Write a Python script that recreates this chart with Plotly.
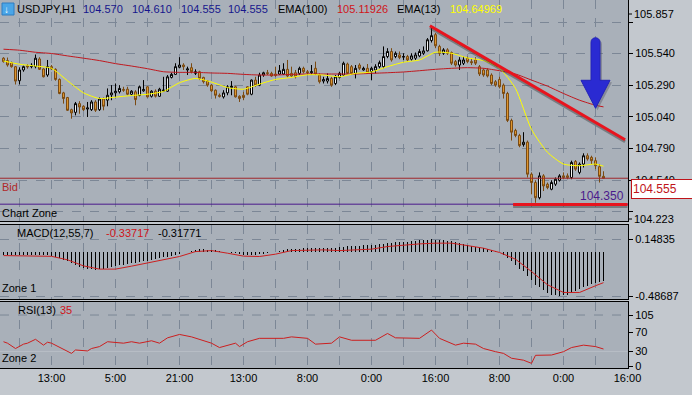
import plotly.graph_objects as go

# ---------------- DATA ----------------
first_bar = -12
opens = [105.504,105.485,105.469,105.437,105.326,105.411,105.445,105.437,105.437,105.498,
         105.419,105.371,105.437,105.416,105.336,105.230,105.193,105.097,105.076,105.145,
         105.124,105.102,105.097,105.158,105.097,105.182,105.172,105.214,105.230,105.238,
         105.257,105.259,105.219,105.238,105.209,105.246,105.278,105.203,105.243,105.203,
         105.243,105.243,105.352,105.376,105.432,105.450,105.411,105.429,105.384,105.397,
         105.352,105.323,105.291,105.251,105.211,105.198,105.230,105.272,105.278,105.203,
         105.211,105.278,105.219,105.331,105.291,105.371,105.389,105.384,105.379,105.379,
         105.379,105.416,105.384,105.389,105.384,105.424,105.397,105.389,105.424,105.371,
         105.323,105.323,105.344,105.304,105.352,105.371,105.458,105.437,105.384,105.450,
         105.411,105.424,105.397,105.411,105.437,105.437,105.517,105.557,105.517,105.530,
         105.512,105.517,105.496,105.504,105.522,105.543,105.562,105.644,105.690,105.597,
         105.543,105.570,105.549,105.477,105.450,105.464,105.504,105.477,105.490,105.437,
         105.411,105.411,105.371,105.318,105.336,105.291,105.225,105.012,104.933,104.893,
         104.821,104.840,104.587,104.521,104.401,104.574,104.508,104.468,104.508,104.539,
         104.574,104.574,104.561,104.688,104.601,104.667,104.733,104.720,104.694,104.646,
         104.570]
highs = [105.512,105.509,105.477,105.442,105.432,105.445,105.456,105.464,105.533,105.512,
         105.424,105.490,105.450,105.424,105.344,105.238,105.198,105.105,105.158,105.164,
         105.132,105.158,105.172,105.172,105.193,105.193,105.265,105.291,105.304,105.291,
         105.278,105.278,105.251,105.251,105.288,105.331,105.283,105.251,105.257,105.270,
         105.357,105.371,105.389,105.464,105.512,105.464,105.437,105.464,105.416,105.405,
         105.357,105.331,105.299,105.257,105.225,105.251,105.291,105.323,105.286,105.211,
         105.238,105.283,105.336,105.357,105.389,105.397,105.411,105.397,105.437,105.450,
         105.464,105.490,105.437,105.411,105.437,105.437,105.411,105.450,105.477,105.384,
         105.357,105.384,105.357,105.371,105.397,105.477,105.469,105.450,105.450,105.464,
         105.437,105.458,105.437,105.456,105.485,105.597,105.583,105.583,105.557,105.557,
         105.543,105.530,105.543,105.549,105.575,105.597,105.663,105.743,105.703,105.610,
         105.583,105.583,105.557,105.490,105.512,105.517,105.517,105.504,105.512,105.450,
         105.424,105.424,105.384,105.331,105.357,105.304,105.238,105.026,104.946,104.906,
         104.919,104.853,104.601,104.539,104.601,104.587,104.521,104.539,104.561,104.587,
         104.601,104.593,104.694,104.699,104.680,104.752,104.752,104.733,104.720,104.667,
         104.610]
lows = [105.469,105.437,105.429,105.296,105.296,105.397,105.421,105.424,105.424,105.411,
        105.352,105.357,105.411,105.326,105.219,105.145,105.087,105.026,105.052,105.065,
        105.087,105.039,105.087,105.079,105.087,105.092,105.124,105.172,105.198,105.225,
        105.238,105.211,105.211,105.132,105.203,105.238,105.193,105.193,105.193,105.198,
        105.238,105.238,105.344,105.371,105.424,105.411,105.371,105.384,105.371,105.331,
        105.304,105.278,105.238,105.185,105.193,105.185,105.211,105.211,105.193,105.158,
        105.172,105.211,105.211,105.278,105.283,105.357,105.371,105.357,105.357,105.371,
        105.371,105.352,105.357,105.344,105.371,105.384,105.376,105.371,105.371,105.304,
        105.304,105.304,105.278,105.291,105.344,105.363,105.379,105.371,105.344,105.411,
        105.405,105.384,105.331,105.384,105.424,105.424,105.504,105.477,105.504,105.496,
        105.490,105.477,105.485,105.490,105.512,105.530,105.557,105.628,105.583,105.522,
        105.530,105.530,105.450,105.437,105.411,105.450,105.464,105.450,105.450,105.363,
        105.357,105.352,105.291,105.278,105.265,105.185,104.999,104.853,104.879,104.800,
        104.805,104.561,104.428,104.361,104.388,104.454,104.468,104.460,104.494,104.529,
        104.547,104.547,104.547,104.614,104.587,104.640,104.694,104.667,104.627,104.521,
        104.555]
closes = [105.477,105.450,105.437,105.323,105.411,105.437,105.435,105.448,105.504,105.416,
          105.357,105.437,105.419,105.336,105.225,105.185,105.092,105.071,105.145,105.118,
          105.097,105.111,105.158,105.092,105.182,105.124,105.211,105.230,105.243,105.265,
          105.251,105.219,105.243,105.177,105.278,105.257,105.198,105.243,105.203,105.259,
          105.251,105.357,105.376,105.437,105.450,105.437,105.419,105.397,105.397,105.344,
          105.318,105.291,105.246,105.211,105.203,105.230,105.278,105.283,105.198,105.185,
          105.193,105.219,105.331,105.291,105.371,105.389,105.384,105.363,105.368,105.405,
          105.416,105.363,105.363,105.357,105.424,105.397,105.389,105.397,105.379,105.318,
          105.336,105.344,105.291,105.357,105.384,105.464,105.384,105.384,105.424,105.424,
          105.424,105.389,105.424,105.437,105.469,105.517,105.557,105.490,105.543,105.509,
          105.517,105.490,105.522,105.530,105.557,105.562,105.650,105.682,105.602,105.543,
          105.570,105.543,105.464,105.450,105.490,105.490,105.477,105.469,105.464,105.379,
          105.371,105.363,105.304,105.291,105.278,105.225,105.012,104.919,104.893,104.813,
          104.840,104.587,104.521,104.401,104.574,104.494,104.481,104.521,104.547,104.574,
          104.561,104.561,104.680,104.627,104.667,104.733,104.707,104.694,104.654,104.570,
          104.555]
bars = list(range(first_bar, first_bar + len(closes)))

ind_x = [-12,-8,-4,0,4,8,12,16,20,24,28,32,36,40,44,48,52,56,60,64,68,72,76,80,84,88,
         92,96,100,104,108,112,116,120,124,128,132,136,138]
ema100 = [105.575,105.567,105.551,105.541,105.522,105.504,105.485,105.461,105.442,105.421,
          105.397,105.392,105.392,105.387,105.384,105.376,105.371,105.371,105.376,105.379,
          105.379,105.379,105.379,105.384,105.389,105.395,105.405,105.416,105.424,105.429,
          105.424,105.405,105.379,105.331,105.283,105.225,105.172,105.132,105.119]
ema13 = [105.482,105.456,105.442,105.424,105.326,105.230,105.185,105.196,105.209,105.219,
         105.241,105.310,105.344,105.315,105.272,105.259,105.299,105.336,105.352,105.373,
         105.371,105.357,105.384,105.395,105.437,105.472,105.490,105.551,105.543,105.506,
         105.485,105.424,105.265,104.941,104.760,104.667,104.654,104.667,104.650]

macd_hist = [-0.030,-0.032,-0.030,-0.028,-0.030,-0.033,-0.030,-0.028,-0.030,-0.032,-0.030,-0.033,
             -0.035,-0.045,-0.060,-0.080,-0.100,-0.120,-0.140,-0.160,-0.170,-0.185,-0.190,-0.195,
             -0.190,-0.185,-0.175,-0.165,-0.155,-0.145,-0.140,-0.130,-0.120,-0.115,-0.105,-0.100,
             -0.090,-0.080,-0.075,-0.065,-0.055,-0.045,-0.040,-0.030,-0.015,0.000,0.010,0.020,
             0.030,0.035,0.035,0.030,0.030,0.025,0.020,0.010,0.005,-0.005,-0.010,-0.020,
             -0.025,-0.030,-0.030,-0.025,-0.020,-0.015,-0.010,0.000,0.010,0.020,0.030,0.035,
             0.035,0.040,0.040,0.045,0.045,0.050,0.050,0.045,0.045,0.045,0.050,0.055,
             0.060,0.065,0.070,0.070,0.075,0.075,0.080,0.080,0.080,0.085,0.090,0.100,
             0.105,0.110,0.115,0.115,0.120,0.120,0.125,0.130,0.135,0.140,0.145,0.148,
             0.145,0.140,0.135,0.130,0.125,0.115,0.105,0.095,0.085,0.075,0.065,0.055,
             0.045,0.035,0.025,0.015,0.000,-0.030,-0.060,-0.100,-0.140,-0.180,-0.210,-0.260,
             -0.310,-0.360,-0.390,-0.420,-0.450,-0.470,-0.480,-0.487,-0.480,-0.470,-0.450,-0.430,
             -0.410,-0.390,-0.370,-0.355,-0.340,-0.330,-0.318]
macd_signal = [-0.035,-0.035,-0.038,-0.043,-0.082,-0.150,-0.186,-0.186,-0.153,-0.116,
               -0.082,-0.045,0.010,0.021,-0.008,-0.041,-0.045,-0.019,0.021,0.029,
               0.029,0.021,0.029,0.037,0.066,0.085,0.096,0.104,0.104,0.077,
               0.048,0.000,-0.075,-0.213,-0.361,-0.447,-0.447,-0.372,-0.337]

rsi_x = [-12,-11,-9,-7,-6,-4,-2,-1,0,2,5,6,9,10,12,14,16,18,20,22,25,27,29,32,35,40,42,44,46,47,
         49,52,58,60,64,66,70,72,75,81,84,86,92,95,97,101,103,106,108,111,113,115,118,120,121,
         125,128,130,133,136,138]
rsi_y = [50,47,36,45,47,55,43,49,47,38,26,33,31,36,40,50,48,47,50,47,52,47,58,65,60,47,38,43,47,40,
         50,57,57,60,57,45,47,60,53,53,67,58,57,74,57,43,47,45,36,29.5,26,16,12,5.5,22,
         22.6,29.5,38,43,40,35]

tick_bars = [0,16,32,48,64,80,96,112,128,144]
tick_labels = ["13:00","5:00","21:00","13:00","8:00","0:00","16:00","8:00","0:00","16:00"]
grid_bars = list(range(-8, 145, 8))

price_grid = [105.79,105.54,105.29,105.04,104.79,104.54,104.29]
price_labels = ["","105.540","105.290","105.040","104.790","104.540",""]
price_top_label, price_bottom_label = 105.857, 104.223
bid_price = 104.555
low_price = 104.350
header_values = ["104.570","104.610","104.555","104.555"]
ema100_last, ema13_last = "105.11926", "104.64969"
macd_last = ["-0.33717", "-0.31771"]
rsi_last = "35"

trend_line = [(94.6, 105.761), (143.4, 104.859)]
support_line = [(115.4, 104.347), (144.0, 104.347)]
arrow_bar, arrow_tip = 136, 105.108

# ---------------- LAYOUT HELPERS ----------------
W, H = 692, 395
ML, MR, MT, MB = 0, 64, 0, 27
PW, PH = W - ML - MR, H - MT - MB
def px(xp): return (xp - ML) / PW
def py(yp): return 1 - (yp - MT) / PH

FONT = "Liberation Sans, Arial, sans-serif"
GRID = "#7C8796"
BG = "#A9B0B9"
XRANGE = [-12.875, 144.125]

fig = go.Figure()
fig.add_trace(go.Candlestick(
    x=bars, open=opens, high=highs, low=lows, close=closes,
    increasing=dict(line=dict(color="#000000", width=1), fillcolor="#FFFFFF"),
    decreasing=dict(line=dict(color="#7A4A12", width=1), fillcolor="#E39A32"),
    whiskerwidth=0, xaxis="x", yaxis="y", showlegend=False, hoverinfo="skip"))
fig.add_trace(go.Scatter(x=ind_x, y=ema100, mode="lines", line=dict(color="#C0181E", width=1, shape="spline", smoothing=0.6),
                         xaxis="x", yaxis="y", showlegend=False, hoverinfo="skip"))
fig.add_trace(go.Scatter(x=ind_x, y=ema13, mode="lines", line=dict(color="#FFFF00", width=1, shape="spline", smoothing=0.6),
                         xaxis="x", yaxis="y", showlegend=False, hoverinfo="skip"))
fig.add_trace(go.Bar(x=bars, y=macd_hist, width=0.25, marker=dict(color="#000000", line=dict(width=0)),
                     xaxis="x2", yaxis="y2", showlegend=False, hoverinfo="skip"))
fig.add_trace(go.Scatter(x=ind_x, y=macd_signal, mode="lines", line=dict(color="#CC1F1F", width=1),
                         xaxis="x2", yaxis="y2", showlegend=False, hoverinfo="skip"))
fig.add_trace(go.Scatter(x=rsi_x, y=rsi_y, mode="lines", line=dict(color="#CC1F1F", width=1),
                         xaxis="x3", yaxis="y3", showlegend=False, hoverinfo="skip"))

xcommon = dict(range=XRANGE, showgrid=True, gridcolor=GRID, griddash="dash", gridwidth=1,
               tickmode="array", tickvals=grid_bars, showline=True, mirror=True, linecolor="#000000",
               linewidth=1, zeroline=False, ticks="", fixedrange=True)
ycommon = dict(side="right", showline=True, mirror=True, linecolor="#000000", linewidth=1,
               ticks="outside", ticklen=4, tickcolor="#000000", zeroline=False,
               tickfont=dict(family=FONT, size=11, color="#000000"), gridcolor=GRID, griddash="dash")

fig.update_layout(
    width=W, height=H, margin=dict(l=ML, r=MR, t=MT, b=MB),
    paper_bgcolor="#C3C8CE", plot_bgcolor=BG, bargap=0,
    xaxis=dict(**xcommon, domain=[0, 1], anchor="y", showticklabels=False, rangeslider=dict(visible=False)),
    xaxis2=dict(**xcommon, domain=[0, 1], anchor="y2", matches="x", showticklabels=False),
    xaxis3=dict(**xcommon, domain=[0, 1], anchor="y3", matches="x",
                ticktext=[tick_labels[tick_bars.index(b)] if b in tick_bars else "" for b in grid_bars],
                tickfont=dict(family=FONT, size=11, color="#000000")),
    yaxis=dict(**ycommon, domain=[py(221), 1], anchor="x", range=[104.217, 105.964],
               tickmode="array", tickvals=price_grid, ticktext=price_labels, showgrid=True),
    yaxis2=dict(**ycommon, domain=[py(299), py(225)], anchor="x2", range=[-0.520, 0.307],
                tickmode="array", tickvals=[0.14835, -0.48687], ticktext=["0.14835", "-0.48687"], showgrid=True),
    yaxis3=dict(**ycommon, domain=[0, py(302)], anchor="x3", range=[-4.1, 131.8],
                tickmode="array", tickvals=[0, 30, 70, 105], ticktext=["0", "30", "70", "105"], showgrid=False),
)

shapes = []
shapes.append(dict(type="line", xref="x3 domain", yref="y3", x0=0, x1=1, y0=105, y1=105,
                   line=dict(color=GRID, width=1, dash="dash"), layer="below"))
shapes.append(dict(type="line", xref="x3 domain", yref="y3", x0=0, x1=1, y0=30, y1=30,
                   line=dict(color="#B8BEC6", width=1), layer="below"))
shapes.append(dict(type="line", xref="x domain", yref="y", x0=0, x1=1, y0=bid_price, y1=bid_price,
                   line=dict(color="#A0282C", width=1)))
shapes.append(dict(type="line", xref="x domain", yref="y", x0=0, x1=1, y0=low_price, y1=low_price,
                   line=dict(color="#4B1A8C", width=1)))
for (a, b) in [trend_line, support_line]:
    shapes.append(dict(type="line", xref="x", yref="y", x0=a[0], y0=a[1] - 0.016, x1=b[0], y1=b[1] - 0.016,
                       line=dict(color="rgba(60,60,60,0.45)", width=3)))
slope = (trend_line[1][1] - trend_line[0][1]) / (trend_line[1][0] - trend_line[0][0])
shapes.append(dict(type="line", xref="x", yref="y", x0=trend_line[0][0] + 0.3, y0=trend_line[0][1] - 0.012,
                   x1=trend_line[0][0] + 17, y1=trend_line[0][1] - 0.012 + slope * 17,
                   line=dict(color="#2E6B2E", width=1)))
for (a, b) in [trend_line, support_line]:
    shapes.append(dict(type="line", xref="x", yref="y", x0=a[0], y0=a[1], x1=b[0], y1=b[1],
                       line=dict(color="#E8141E", width=3)))
arrow_path = "M 0,0 L -14.5,28 L -4.5,28 L -4.5,66 C -4.5,72 4.5,72 4.5,66 L 4.5,28 L 14.5,28 Z"
shadow_path = "M 2,-2 L -12.5,26 L -2.5,26 L -2.5,64 C -2.5,70 6.5,70 6.5,64 L 6.5,26 L 16.5,26 Z"
shapes.append(dict(type="path", xref="x", yref="y", xsizemode="pixel", ysizemode="pixel",
                   xanchor=arrow_bar, yanchor=arrow_tip, path=shadow_path,
                   fillcolor="rgba(70,70,90,0.35)", line=dict(width=0)))
shapes.append(dict(type="path", xref="x", yref="y", xsizemode="pixel", ysizemode="pixel",
                   xanchor=arrow_bar, yanchor=arrow_tip, path=arrow_path,
                   fillcolor="#2A2AD2", line=dict(color="#2222B8", width=1)))
shapes.append(dict(type="rect", xref="paper", yref="paper", x0=px(2), x1=px(14), y0=py(15), y1=py(3),
                   fillcolor="#4AA6E8", line=dict(color="#2E7CC0", width=1)))
for yp in (14, 219):
    shapes.append(dict(type="line", xref="paper", yref="paper", x0=1, x1=px(632), y0=py(yp), y1=py(yp),
                       line=dict(color="#000000", width=1)))
fig.update_layout(shapes=shapes)

ann = []
def text(xp, yp, s, color="#000000", size=11, xanchor="left"):
    ann.append(dict(xref="paper", yref="paper", x=px(xp), y=py(yp), text=s, showarrow=False,
                    xanchor=xanchor, yanchor="middle", font=dict(family=FONT, size=size, color=color),
                    borderpad=0))

text(3, 9, "<b>↓</b>", "#FFFFFF", 10)
text(16, 9, "USDJPY,H1")
for xp, v in zip([82, 131, 179.5, 227], header_values):
    text(xp, 9, v, "#16168C")
text(277, 9, "EMA(100)")
text(335.5, 9, ema100_last, "#D0141A")
text(396, 9, "EMA(13)")
text(449, 9, ema13_last, "#FFFF00")
text(1, 187, "Bid", "#B02828")
text(1, 212.5, "Chart Zone")
text(625, 196, f"{low_price:.3f}", "#4B1A8C", 12, "right")
text(16, 233, "MACD(12,55,7)")
text(105, 233, macd_last[0], "#D0141A")
text(157, 233, macd_last[1])
text(1, 288, "Zone 1")
text(16.5, 310, "RSI(13)")
text(59, 310, rsi_last, "#D0141A")
text(1, 358, "Zone 2")
text(632.5, 14, f"{price_top_label:.3f}")
text(632.5, 219, f"{price_bottom_label:.3f}")
ann.append(dict(xref="paper", yref="paper", x=px(631), y=py(178.5), xanchor="left", yanchor="top",
                text=f"{bid_price:.3f}", showarrow=False, bgcolor="#FFFFFF", bordercolor="#C0141A",
                borderwidth=1, width=59, height=16, align="left",
                font=dict(family=FONT, size=12, color="#C0141A")))
fig.update_layout(annotations=ann)

fig.write_html("out.html", config={"displayModeBar": False, "staticPlot": True},
               post_script="document.body.style.margin='0';document.body.style.overflow='hidden';")
